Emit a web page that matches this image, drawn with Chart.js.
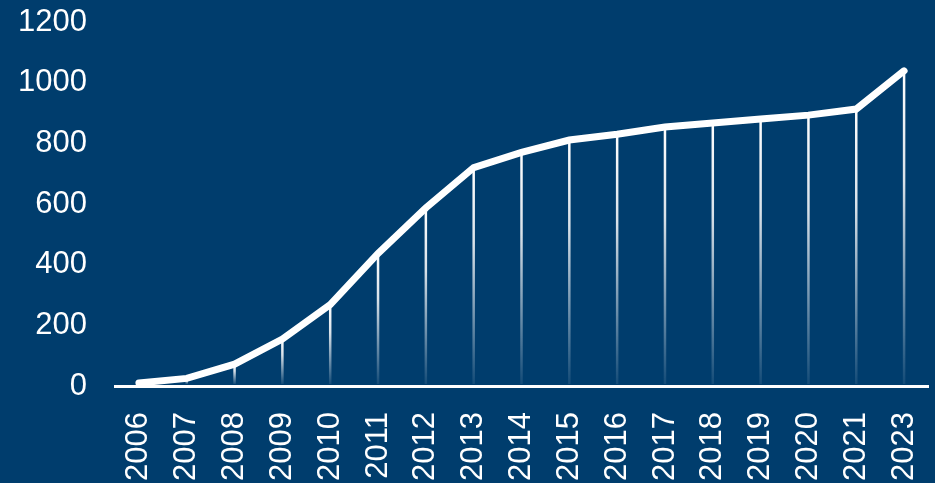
<!DOCTYPE html>
<html>
<head>
<meta charset="utf-8">
<script src="https://cdn.jsdelivr.net/npm/chart.js@4"></script>
<style>
  body { margin: 0; background: #003d6d; }
  #wrap { width: 935px; height: 483px; position: relative; }
</style>
</head>
<body>
<div id="wrap"><canvas id="myLineChart"></canvas></div>
<script>
// years on the x axis (no 2022 in the source)
const years = ["2006", "2007", "2008", "2009", "2010", "2011", "2012", "2013", "2014",
  "2015", "2016", "2017", "2018", "2019", "2020", "2021", "2023"];
// values
const totals = [10, 25, 72, 155, 268, 437, 587, 720, 770, 811, 830, 854, 867, 880, 893, 913, 1039];
const yMin = 0;
const yMax = 1200;
const yStep = 200;

//vertical drop lines under each point, fading towards the axis
const dropLines = {
  id: "dropLines",
  beforeDatasetsDraw(chart) {
    const ctx = chart.ctx;
    const meta = chart.getDatasetMeta(0);
    const bottom = chart.scales.y.getPixelForValue(0) - 2;
    ctx.save();
    meta.data.forEach((pt) => {
      const grad = ctx.createLinearGradient(0, pt.y, 0, bottom);
      grad.addColorStop(0, "rgba(255,255,255,1)");
      grad.addColorStop(0.35, "rgba(255,255,255,0.85)");
      grad.addColorStop(1, "rgba(255,255,255,0.08)");
      ctx.strokeStyle = grad;
      ctx.lineWidth = 2.5;
      ctx.beginPath();
      ctx.moveTo(pt.x, pt.y);
      ctx.lineTo(pt.x, bottom);
      ctx.stroke();
    });
    ctx.restore();
  },
};

new Chart("myLineChart", {
  type: "line",
  data: {
    labels: years,
    datasets: [
      {
        data: totals,
        borderColor: "#ffffff",
        borderWidth: 7,
        borderCapStyle: "round",
        tension: 0,
        pointRadius: 0,
        fill: false,
      },
    ],
  },
  options: {
    animation: false,
    responsive: true,
    maintainAspectRatio: false,
    layout: { padding: { top: 22, right: 7, left: 0, bottom: 0 } },
    plugins: { legend: { display: false }, tooltip: { enabled: false } },
    scales: {
      x: {
        offset: true,
        grid: { display: false, drawTicks: false },
        border: { display: true, color: "#ffffff", width: 3 },
        ticks: {
          color: "#ffffff",
          font: { family: "Liberation Sans, Arial", size: 31 },
          minRotation: 90,
          maxRotation: 90,
          padding: 26,
          autoSkip: false,
        },
        afterFit: (scale) => {
          scale.height = 97;
          scale.paddingLeft = 0;
          scale.paddingRight = 0;
        },
      },
      y: {
        min: yMin,
        max: yMax,
        grid: { display: false, drawTicks: false },
        border: { display: false },
        ticks: {
          stepSize: yStep,
          color: "#ffffff",
          font: { family: "Liberation Sans, Arial", size: 31 },
          padding: 28,
          callback: (value) => String(value),
        },
        afterFit: (scale) => {
          scale.width = 115;
          scale.paddingTop = 0;
          scale.paddingBottom = 0;
        },
      },
    },
  },
  plugins: [dropLines],
});
</script>
</body>
</html>
